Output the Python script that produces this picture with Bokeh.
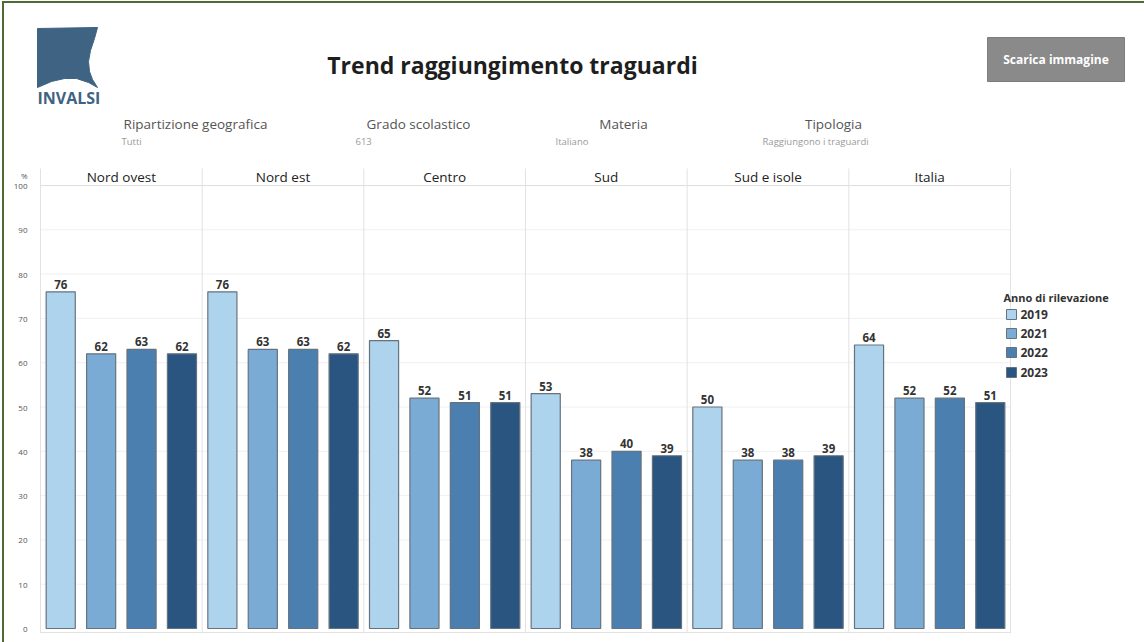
from bokeh.plotting import figure
from bokeh.models import Range1d, FixedTicker, InlineStyleSheet
from bokeh.core.properties import value
from bokeh.embed import file_html
from bokeh.resources import INLINE

# ---- data -------------------------------------------------------------
regions = ["Nord ovest", "Nord est", "Centro", "Sud", "Sud e isole", "Italia"]
years = ["2019", "2021", "2022", "2023"]
pct_2019 = [76, 76, 65, 53, 50, 64]
pct_2021 = [62, 63, 52, 38, 38, 52]
pct_2022 = [63, 63, 51, 40, 38, 52]
pct_2023 = [62, 62, 51, 39, 39, 51]
y_ticks = [0, 10, 20, 30, 40, 50, 60, 70, 80, 90, 100]
unit_label = "%"

filter_names = ["Ripartizione geografica", "Grado scolastico", "Materia", "Tipologia"]
filter_values = ["Tutti", "613", "Italiano", "Raggiungono i traguardi"]

series = [pct_2019, pct_2021, pct_2022, pct_2023]
year_colors = ["#aed3ec", "#7aabd4", "#4a7fb0", "#295580"]

# ---- layout (pixels) --------------------------------------------------
W, H = 1144, 642
FRAME_L = 36          # left axis panel width
FRAME_B = 633         # bottom of the drawing frame
PANEL_L, PANEL_R = 40, 1010
ZERO_PX, HUNDRED_PX = 628, 185
HEADER_TOP = 168
UNIT_LABEL_PX = 175

n_slots = len(regions) * len(years)
ux = (PANEL_R - PANEL_L) / n_slots          # px per slot
uy = (ZERO_PX - HUNDRED_PX) / 100.0         # px per percentage point

FONT = value("Open Sans")

# thin green page border along the top and left edges
page_border = InlineStyleSheet(css="""
:host::after {
  content: "";
  position: absolute;
  left: 2px; top: 1px; right: 0; bottom: 0;
  border-left: 2px solid #4e6b35;
  border-top: 2px solid #4e6b35;
  pointer-events: none;
  z-index: 100;
}
""")

p = figure(
    width=W, height=H,
    x_range=Range1d((FRAME_L - PANEL_L) / ux, (W - PANEL_L) / ux),
    y_range=Range1d(-(FRAME_B - ZERO_PX) / uy, ZERO_PX / uy),
    output_backend="svg", toolbar_location=None, title=None,
    min_border_left=FRAME_L, min_border_right=0,
    min_border_top=0, min_border_bottom=H - FRAME_B,
    stylesheets=[page_border],
)
p.extra_x_ranges["px"] = Range1d(FRAME_L, W)
p.extra_y_ranges["px"] = Range1d(FRAME_B, 0)

p.xaxis.visible = False
p.xgrid.visible = False
p.ygrid.visible = False
p.outline_line_color = None
p.background_fill_color = "white"
p.border_fill_color = "white"

# the "%" unit sits as an extra tick level with the region headers
unit_tick = round((ZERO_PX - UNIT_LABEL_PX) / uy * 4) / 4
yax = p.yaxis[0]
yax.ticker = FixedTicker(ticks=y_ticks + [unit_tick])
yax.major_label_overrides = {unit_tick: unit_label}
yax.axis_line_color = None
yax.major_tick_line_color = None
yax.minor_tick_line_color = None
yax.major_label_standoff = 3
yax.major_label_text_font_size = "8px"
yax.major_label_text_color = "#555555"
yax.major_label_text_font = "Open Sans"

# ---- panel structure -------------------------------------------------
inner_ticks = [t for t in y_ticks if 0 < t < 100]
p.segment(x0=[0] * len(inner_ticks), x1=[n_slots] * len(inner_ticks),
          y0=inner_ticks, y1=inner_ticks, line_color="#f0f0f0", line_width=1)
p.segment(x0=[0], x1=[n_slots], y0=[100], y1=[100], line_color="#dedede", line_width=1)

dividers = [i * len(years) for i in range(len(regions) + 1)]
p.segment(x0=dividers, x1=dividers, y0=[HEADER_TOP] * len(dividers),
          y1=[FRAME_B] * len(dividers), y_range_name="px",
          line_color="#e2e2e2", line_width=1)
p.segment(x0=[0], x1=[n_slots], y0=[FRAME_B - 1], y1=[FRAME_B - 1],
          y_range_name="px", line_color="#e2e2e2", line_width=1)

# region headers
p.text(x=[i * len(years) + len(years) / 2 for i in range(len(regions))],
       y=[176] * len(regions), text=regions, y_range_name="px",
       text_align="center", text_baseline="middle", text_font=FONT,
       text_font_size="13.5px", text_color="#222222")

# ---- bars ------------------------------------------------------------
for j, (yr, vals, col) in enumerate(zip(years, series, year_colors)):
    xs = [i * len(years) + j + 0.5 for i in range(len(regions))]
    p.vbar(x=xs, top=vals, bottom=0, width=0.72, fill_color=col,
           line_color="#66727e", line_width=1.2)
    p.text(x=xs, y=vals, text=[str(v) for v in vals], text_align="center",
           text_baseline="bottom", y_offset=-3, text_font=FONT,
           text_font_size="11.5px", text_font_style="bold", text_color="#333333")

# ---- legend ----------------------------------------------------------
p.text(x=[1003], y=[297], text=["Anno di rilevazione"], x_range_name="px",
       y_range_name="px", text_align="left", text_baseline="middle",
       text_font=FONT, text_font_size="11px", text_font_style="bold",
       text_color="#333333")
leg_y = [314, 333, 352, 372]
p.rect(x=[1011] * 4, y=leg_y, width=10, height=10, x_range_name="px",
       y_range_name="px", fill_color=year_colors, line_color="#66727e", line_width=1)
p.text(x=[1020] * 4, y=leg_y, text=years, x_range_name="px", y_range_name="px",
       text_align="left", text_baseline="middle", text_font=FONT,
       text_font_size="12px", text_font_style="bold", text_color="#333333")

# ---- header: title, logo, filters, button ----------------------------
p.text(x=[512], y=[64], text=["Trend raggiungimento traguardi"], x_range_name="px",
       y_range_name="px", text_align="center", text_baseline="middle",
       text_font=FONT, text_font_size="23px", text_font_style="bold",
       text_color="#1e1e1e")

logo_x = [37, 97, 94, 90, 88, 89, 92, 97, 88, 76, 64, 51, 37]
logo_y = [28, 27, 38, 50, 61, 71, 79, 87, 82, 78, 78, 81, 87]
p.patch(x=logo_x, y=logo_y, x_range_name="px", y_range_name="px",
        fill_color="#3f6382", line_color="#3f6382")
p.text(x=[37], y=[97], text=["INVALSI"], x_range_name="px", y_range_name="px",
       text_align="left", text_baseline="middle", text_font=FONT,
       text_font_size="16px", text_font_style="bold", text_color="#3f6382")

p.text(x=[195, 418, 623, 833], y=[123] * 4, text=filter_names,
       x_range_name="px", y_range_name="px", text_align="center",
       text_baseline="middle", text_font=FONT, text_font_size="13.5px",
       text_color="#555555")
p.text(x=[121, 355, 555, 762], y=[141] * 4, text=filter_values,
       x_range_name="px", y_range_name="px", text_align="left",
       text_baseline="middle", text_font=FONT, text_font_size="9.5px",
       text_color="#9a9a9a")

p.quad(left=[987], right=[1124], top=[37], bottom=[81], x_range_name="px",
       y_range_name="px", fill_color="#8a8a8a", line_color="#7d7d7d")
p.text(x=[1055.5], y=[59], text=["Scarica immagine"], x_range_name="px",
       y_range_name="px", text_align="center", text_baseline="middle",
       text_font=FONT, text_font_size="12px", text_font_style="bold",
       text_color="white")

open("out.html", "w").write(file_html(p, INLINE))
